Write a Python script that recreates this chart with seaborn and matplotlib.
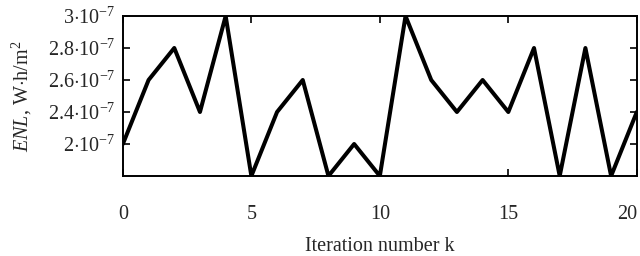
import matplotlib
matplotlib.use("Agg")
import matplotlib.pyplot as plt
import numpy as np
import pandas as pd
import seaborn as sns

# data
iterations = list(range(0, 21))
enl_values = [2.2, 2.6, 2.8, 2.4, 3.0, 2.0, 2.4, 2.6, 2.0, 2.2, 2.0,
              3.0, 2.6, 2.4, 2.6, 2.4, 2.8, 2.0, 2.8, 2.0, 2.4]  # x 1e-7
y_ticks = [2.2, 2.4, 2.6, 2.8, 3.0]
y_tick_labels = [r"$2{\cdot}10^{-7}$", r"$2.4{\cdot}10^{-7}$", r"$2.6{\cdot}10^{-7}$",
                 r"$2.8{\cdot}10^{-7}$", r"$3{\cdot}10^{-7}$"]
x_ticks = [0, 5, 10, 15, 20]

sns.set_style("ticks")
plt.rcParams["font.family"] = ["Liberation Serif", "DejaVu Serif"]
plt.rcParams["mathtext.fontset"] = "custom"
plt.rcParams["mathtext.rm"] = "Liberation Serif"
plt.rcParams["mathtext.it"] = "Liberation Serif:italic"

df = pd.DataFrame({"k": iterations, "enl": enl_values})

fig = plt.figure(figsize=(6.4, 2.56), dpi=100)
ax = fig.add_axes([0.192, 0.3125, 0.803, 0.625])
sns.lineplot(data=df, x="k", y="enl", ax=ax, color="black", linewidth=2.9)

ax.set_xlim(0, 20)
ax.set_ylim(2.0, 3.0)
ax.set_xticks(x_ticks)
ax.set_yticks(y_ticks)
ax.set_yticklabels(y_tick_labels)
ax.tick_params(direction="in", length=5, width=1.2, top=True, right=True,
               labelsize=14.5, color="black")
ax.tick_params(axis="x", pad=21)
ax.tick_params(axis="y", pad=5)
# last x label sits inside the figure, as in the reference
ax.get_xticklabels()[-1].set_horizontalalignment("right")
for s in ax.spines.values():
    s.set_linewidth(1.4)
    s.set_color("black")

ax.set_xlabel("Iteration number k", fontsize=14.5, labelpad=9)
ax.set_ylabel(r"$ENL$, W$\cdot$h/m$^2$", fontsize=14.5, labelpad=10)

fig.savefig("out.png", dpi=100)
plt.close(fig)
